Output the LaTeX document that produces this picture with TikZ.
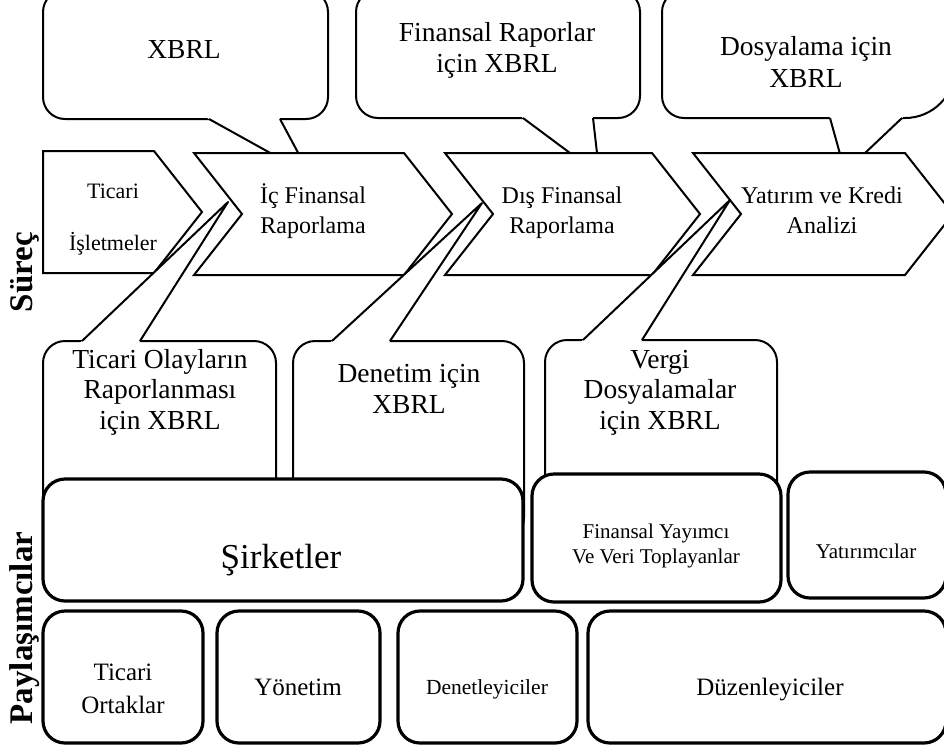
\documentclass[tikz,border=0pt]{standalone}
\usepackage{fontspec}
\setmainfont{Liberation Serif}
\usetikzlibrary{calc}

% white wedge over the bubble border, then the two tail lines
\newcommand{\bubbletail}[3]{%
  \fill[white] ($(#1)!-0.1!(#3)$) -- (#3) -- ($(#2)!-0.1!(#3)$) -- cycle;
  \draw[tail] (#1) -- (#3) -- (#2);
}

\begin{document}
\begin{tikzpicture}[
  x=1pt, y=-1pt,
  %-- shape styles -------------------------------------------------------
  bubble/.style   = {draw, line width=2pt, fill=white, rounded corners=22pt},
  tail/.style     = {draw, line width=2pt, line join=round},
  arrowbox/.style = {draw, line width=2pt, fill=white},
  partybox/.style = {draw, line width=3.2pt, fill=white, rounded corners=22pt},
  %-- text styles (anchored at the baseline of the last line) -------------
  steplab/.style  = {anchor=base, align=center, inner sep=0pt,
                     font=\fontsize{24}{30}\selectfont},
  notelab/.style  = {anchor=base, align=center, inner sep=0pt,
                     font=\fontsize{27.5}{30.5}\selectfont},
  partylab/.style = {anchor=base, align=center, inner sep=0pt,
                     font=\fontsize{25}{33}\selectfont},
  sidelab/.style  = {rotate=90, inner sep=0pt,
                     font=\bfseries\fontsize{33}{33}\selectfont},
]
\useasboundingbox (0,0) rectangle (944,748);
\clip (0,0) rectangle (944,748);

% ── Callouts above the process row ────────────────────────────────────────────
\draw[bubble] (43,-10) rectangle (328,119);
\coordinate (t1a) at (209,119);
\coordinate (t1b) at (280,119);
\coordinate (t1tip) at (310,175);
\bubbletail{t1a}{t1b}{t1tip}

\draw[bubble] (356,-10) rectangle (640,118);
\coordinate (t2a) at (523,118);
\coordinate (t2b) at (593,118);
\coordinate (t2tip) at (599.5,175);
\bubbletail{t2a}{t2b}{t2tip}

% right one runs past the edge, with a wide lower-right corner
\draw[line width=2pt, fill=white] (684,-10) -- (955,-10) -- (955,68)
  arc[start angle=0, end angle=90, radius=50] -- (684,118)
  arc[start angle=90, end angle=180, radius=22] -- (662,12)
  arc[start angle=180, end angle=270, radius=22] -- cycle;
\coordinate (t3a) at (830,118);
\coordinate (t3b) at (902,118);
\coordinate (t3tip) at (845,172);
\bubbletail{t3a}{t3b}{t3tip}

% ── Process row (pentagon + chevrons) ─────────────────────────────────────────
\draw[arrowbox] (43,151) -- (154,151) -- (202,212) -- (154,273) -- (43,273) -- cycle;
\draw[arrowbox] (194,153) -- (404,153) -- (452,214) -- (404,275) -- (194,275) -- (242,214) -- cycle;
\draw[arrowbox] (445,153) -- (652,153) -- (700,214) -- (652,275) -- (445,275) -- (493,214) -- cycle;
\draw[arrowbox] (693,153) -- (905,153) -- (953,214) -- (905,275) -- (693,275) -- (741,214) -- cycle;

% ── Callouts below the process row ────────────────────────────────────────────
\draw[bubble] (43,341) rectangle (276,540);
\coordinate (b1a) at (82,341);
\coordinate (b1b) at (140,341);
\coordinate (b1tip) at (228,202);
\bubbletail{b1a}{b1b}{b1tip}

\draw[bubble] (293,341) rectangle (524,540);
\coordinate (b2a) at (332,341);
\coordinate (b2b) at (390,341);
\coordinate (b2tip) at (482,203);
\bubbletail{b2a}{b2b}{b2tip}

\draw[bubble] (545,340) rectangle (777,540);
\coordinate (b3a) at (583,340);
\coordinate (b3b) at (642,340);
\coordinate (b3tip) at (730,200);
\bubbletail{b3a}{b3b}{b3tip}

% ── Participant boxes ─────────────────────────────────────────────────────────
\draw[partybox] (43,479) rectangle (523,601);
\draw[partybox] (532,474) rectangle (781,602);
\draw[partybox] (788,472) rectangle (946,598);
\draw[partybox] (43,611) rectangle (203,743);
\draw[partybox] (217,611) rectangle (380,743);
\draw[partybox] (398,611) rectangle (577,743);
\draw[partybox] (588,611) rectangle (946,743);

% ── Texts: callouts ───────────────────────────────────────────────────────────
\node[notelab] (xbrl)    at (184,58)  {XBRL};
\node[notelab] (finrap)  at (497,72)  {Finansal Raporlar\\için XBRL};
\node[notelab, font=\fontsize{27.5}{32}\selectfont] (dosya) at (806,87) {Dosyalama için\\XBRL};
\node[notelab] (olaylar) at (160,429) {Ticari Olayların\\Raporlanması\\için XBRL};
\node[notelab, font=\fontsize{27.5}{31}\selectfont] (denetim) at (409,413) {Denetim için\\XBRL};
\node[notelab] (vergi)   at (660,429) {Vergi\\Dosyalamalar\\için XBRL};

% ── Texts: process row ────────────────────────────────────────────────────────
\node[steplab, font=\fontsize{22}{52}\selectfont] (isletme) at (113,250) {Ticari\\İşletmeler};
\node[steplab] (icrap)   at (313,233) {İç Finansal\\Raporlama};
\node[steplab] (disrap)  at (562,233) {Dış Finansal\\Raporlama};
\node[steplab] (yatirim) at (822,233) {Yatırım ve Kredi\\Analizi};

% ── Texts: participants ───────────────────────────────────────────────────────
\node[partylab, font=\fontsize{35}{35}\selectfont] (sirket) at (281,568) {Şirketler};
\node[partylab, font=\fontsize{21}{25}\selectfont] (yayimci) at (656,563) {Finansal Yayımcı\\Ve Veri Toplayanlar};
\node[partylab, font=\fontsize{21}{25}\selectfont] (yatirimci) at (866,558) {Yatırımcılar};
\node[partylab] (ortak)   at (123,713) {Ticari\\Ortaklar};
\node[partylab] (yonetim) at (298,695) {Yönetim};
\node[partylab, font=\fontsize{21.5}{28}\selectfont] (denetci) at (487,694) {Denetleyiciler};
\node[partylab] (duzen)   at (770,695) {Düzenleyiciler};

% ── Side labels ───────────────────────────────────────────────────────────────
\node[sidelab] (surec)  at (25,272) {Süreç};
\node[sidelab] (paylas) at (25,628) {Paylaşımcılar};

\end{tikzpicture}
\end{document}
